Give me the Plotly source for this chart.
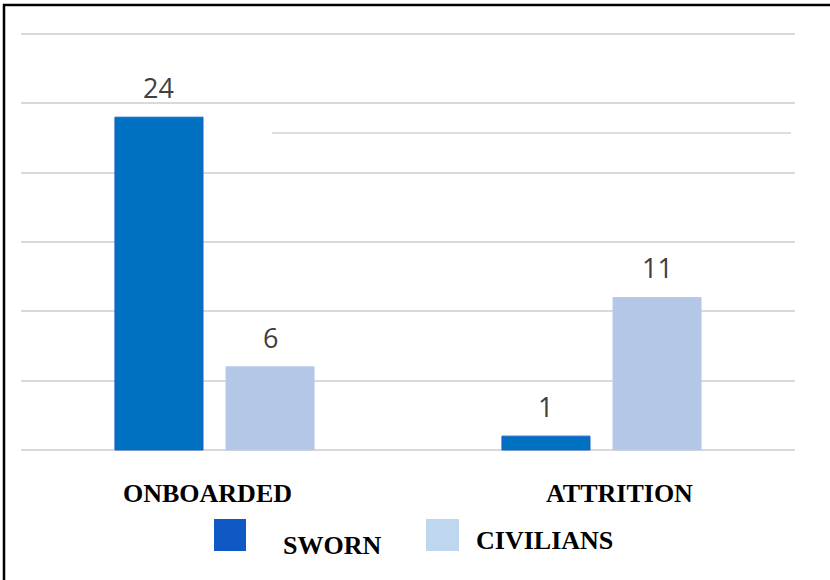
import plotly.graph_objects as go

categories = ["ONBOARDED", "ATTRITION"]
sworn = [24, 1]
civilians = [6, 11]
series_names = ["SWORN", "CIVILIANS"]

W, H = 830, 580
Y0, Y30 = 450, 34          # pixel rows of value 0 and value 30
PAD = 7                    # extra px above/below so edge gridlines render
L, R = 21, 35
T, B = Y30 - PAD, H - Y0 - PAD
pw, ph = W - L - R, H - T - B
k = (Y0 - Y30) / 30.0
BARGAP, BARGROUPGAP = 0.426, 0.207

def px(x):
    return (x - L) / pw

def py(y):
    return (H - B - y) / ph

fig = go.Figure()
fig.add_trace(go.Bar(
    x=categories, y=sworn, name=series_names[0],
    marker=dict(color="#0070C0", line=dict(color="#1F5FC8", width=1)),
))
fig.add_trace(go.Bar(
    x=categories, y=civilians, name=series_names[1],
    marker=dict(color="#B4C7E7", line=dict(color="#B8CBEA", width=1)),
))

shapes = [
    dict(type="rect", xref="paper", yref="paper",
         x0=px(4), x1=px(840), y0=py(5), y1=py(590),
         line=dict(color="black", width=2.5), fillcolor="rgba(0,0,0,0)"),
    dict(type="line", xref="paper", yref="paper",
         x0=px(272), x1=px(791), y0=py(133), y1=py(133),
         line=dict(color="#DDDDDD", width=2)),
    dict(type="rect", xref="paper", yref="paper",
         x0=px(214), x1=px(246), y0=py(519), y1=py(551),
         line=dict(width=0), fillcolor="#0F59C4"),
    dict(type="rect", xref="paper", yref="paper",
         x0=px(426), x1=px(459), y0=py(519), y1=py(551),
         line=dict(width=0), fillcolor="#BFD7EE"),
]

label_font = dict(family="Liberation Serif", size=26, color="black")
annotations = [
    dict(text="<b>%s</b>" % categories[0], x=px(207), y=py(493)),
    dict(text="<b>%s</b>" % categories[1], x=px(619), y=py(493)),
    dict(text="<b>%s</b>" % series_names[0], x=px(332), y=py(545)),
    dict(text="<b>%s</b>" % series_names[1], x=px(544), y=py(540)),
]
for a in annotations:
    a.update(xref="paper", yref="paper", showarrow=False,
             xanchor="center", yanchor="middle", font=label_font)

slot = (pw / len(categories)) * (1 - BARGAP) / 2
num_font = dict(family="Open Sans", size=27, color="#404040")
for vals, sign in ((sworn, -1), (civilians, 1)):
    for c, v in zip(categories, vals):
        annotations.append(dict(
            text=str(v), x=c, y=v, xref="x", yref="y", showarrow=False,
            xanchor="center", yanchor="bottom", xshift=sign * slot / 2,
            yshift=9, font=num_font,
        ))

fig.update_layout(
    width=W, height=H,
    margin=dict(l=L, r=R, t=T, b=B, pad=0),
    paper_bgcolor="white", plot_bgcolor="white",
    barmode="group", bargap=BARGAP, bargroupgap=BARGROUPGAP,
    showlegend=False,
    shapes=shapes, annotations=annotations,
    xaxis=dict(showticklabels=False, showgrid=False, zeroline=False, showline=False, ticks=""),
    yaxis=dict(range=[-PAD / k, 30 + PAD / k], tickvals=[0, 5, 10, 15, 20, 25, 30],
               showticklabels=False, showgrid=True, gridcolor="#D9D9D9", gridwidth=2,
               zeroline=False, showline=False, ticks=""),
)

fig.write_html("out.html", config={"displayModeBar": False},
               post_script="document.body.style.margin='0px';")
